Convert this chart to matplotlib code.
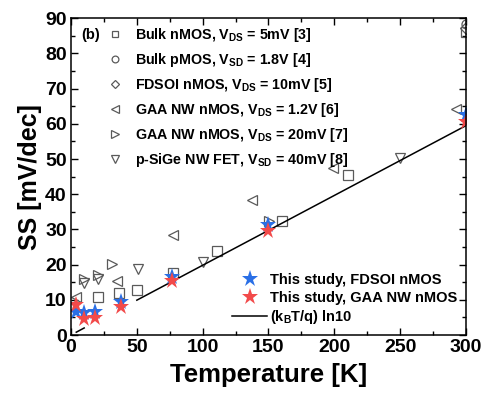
import numpy as np
import matplotlib
matplotlib.use("Agg")
import matplotlib.pyplot as plt
from matplotlib.ticker import MultipleLocator

plt.rcParams['font.family'] = ['Liberation Sans', 'DejaVu Sans']
plt.rcParams['font.weight'] = 'bold'
plt.rcParams['mathtext.fontset'] = 'custom'
plt.rcParams['mathtext.rm'] = 'Liberation Sans:bold'
plt.rcParams['mathtext.bf'] = 'Liberation Sans:bold'
plt.rcParams['mathtext.it'] = 'Liberation Sans:bold:italic'
plt.rcParams['mathtext.default'] = 'rm'

# ---- data ----
bulk_n_T = [20.8, 36.2, 50.4, 77.2, 110.6, 160, 210.6, 300]
bulk_n_SS = [10.9, 11.8, 12.8, 17.5, 24.0, 32.5, 45.5, 86.2]

bulk_p_T = [300]
bulk_p_SS = [88.5]

fdsoi_T = [300]
fdsoi_SS = [87.2]

gaa12_T = [3.8, 34.7, 77.2, 137.2, 199.2, 292.4]
gaa12_SS = [10.8, 15.4, 28.4, 38.4, 47.5, 64.1]

gaa20_T = [10.0, 20.8, 31.4, 150.4]
gaa20_SS = [15.9, 17.0, 20.1, 32.5]

sige_T = [9.6, 20.8, 50.6, 100.5, 249.9]
sige_SS = [14.7, 16.0, 18.8, 20.8, 50.2]

this_fd_T = [4, 10, 18, 38, 77, 150, 300]
this_fd_SS = [6.6, 6.3, 6.6, 9.3, 16.6, 31.3, 62.6]

this_gaa_T = [4, 10, 18, 38, 77, 150, 300]
this_gaa_SS = [8.5, 4.5, 4.7, 7.9, 15.4, 29.6, 60.6]

line_T = [4, 10, np.nan, 50, 300]
line_SS = [0.8, 2.0, np.nan, 9.9, 59.5]

legend1_labels = [
    r"Bulk nMOS, V$_{\mathregular{DS}}$ = 5mV [3]",
    r"Bulk pMOS, V$_{\mathregular{SD}}$ = 1.8V [4]",
    r"FDSOI nMOS, V$_{\mathregular{DS}}$ = 10mV [5]",
    r"GAA NW nMOS, V$_{\mathregular{DS}}$ = 1.2V [6]",
    r"GAA NW nMOS, V$_{\mathregular{DS}}$ = 20mV [7]",
    r"p-SiGe NW FET, V$_{\mathregular{SD}}$ = 40mV [8]",
]
legend2_labels = ["This study, FDSOI nMOS", "This study, GAA NW nMOS",
                  r"(k$_{\mathregular{B}}$T/q) ln10"]

gray = '#5a5a5a'
blue = '#2a6fe6'
red = '#f24a4a'

fig = plt.figure(figsize=(4.84, 3.94), dpi=100)
ax = fig.add_axes([0.1467, 0.1497, 0.9628 - 0.1467, 0.9536 - 0.1497])

mk = dict(linestyle='none', markerfacecolor='none', markeredgecolor=gray,
          markeredgewidth=0.9, markersize=6.5)

h1 = ax.plot(bulk_n_T, bulk_n_SS, marker='s', **mk)[0]
h2 = ax.plot(bulk_p_T, bulk_p_SS, marker='o', **mk)[0]
h3 = ax.plot(fdsoi_T, fdsoi_SS, marker='D', **{**mk, 'markersize': 6})[0]
h4 = ax.plot(gaa12_T, gaa12_SS, marker='<', **{**mk, 'markersize': 7.5})[0]
h5 = ax.plot(gaa20_T, gaa20_SS, marker='>', **{**mk, 'markersize': 7.5})[0]
h6 = ax.plot(sige_T, sige_SS, marker='v', **{**mk, 'markersize': 7.5})[0]

hl = ax.plot(line_T, line_SS, color='black', lw=1.1)[0]
hb = ax.plot(this_fd_T, this_fd_SS, marker='*', linestyle='none', color=blue,
             markersize=12.5, markeredgewidth=0)[0]
hr = ax.plot(this_gaa_T, this_gaa_SS, marker='*', linestyle='none', color=red,
             markersize=12.5, markeredgewidth=0)[0]

ax.set_xlim(0, 300)
ax.set_ylim(0, 90)
ax.xaxis.set_major_locator(MultipleLocator(50))
ax.xaxis.set_minor_locator(MultipleLocator(25))
ax.yaxis.set_major_locator(MultipleLocator(10))
ax.yaxis.set_minor_locator(MultipleLocator(5))
ax.tick_params(which='both', direction='in', top=True, right=True, width=1.0)
ax.tick_params(which='major', length=5, labelsize=14, pad=3)
ax.tick_params(which='minor', length=3)
for lab in ax.get_xticklabels() + ax.get_yticklabels():
    lab.set_fontweight('bold')
for s in ax.spines.values():
    s.set_linewidth(1.1)

ax.set_xlabel("Temperature [K]", fontsize=18.5, fontweight='bold', labelpad=5)
ax.set_ylabel("SS [mV/dec]", fontsize=18, fontweight='bold', labelpad=2)

ax.text(0.025, 0.948, "(b)", transform=ax.transAxes, fontsize=10.5,
        fontweight='bold', va='center', ha='left')

leg1 = ax.legend([h1, h2, h3, h4, h5, h6], legend1_labels,
                 loc='upper left', bbox_to_anchor=(0.072, 1.004), frameon=False,
                 fontsize=10.3, handlelength=1.0, handletextpad=0.9,
                 labelspacing=0.5, borderaxespad=0.2, markerscale=0.75)
for t in leg1.get_texts():
    t.set_fontweight('bold')
ax.add_artist(leg1)

leg2 = ax.legend([hb, hr, hl], legend2_labels, loc='lower right',
                 bbox_to_anchor=(1.0, 0.0), frameon=False, fontsize=10.5,
                 handlelength=2.4, handletextpad=0.2, labelspacing=0.25,
                 borderaxespad=0.2)
for t in leg2.get_texts():
    t.set_fontweight('bold')

fig.savefig("out.png", dpi=100)
